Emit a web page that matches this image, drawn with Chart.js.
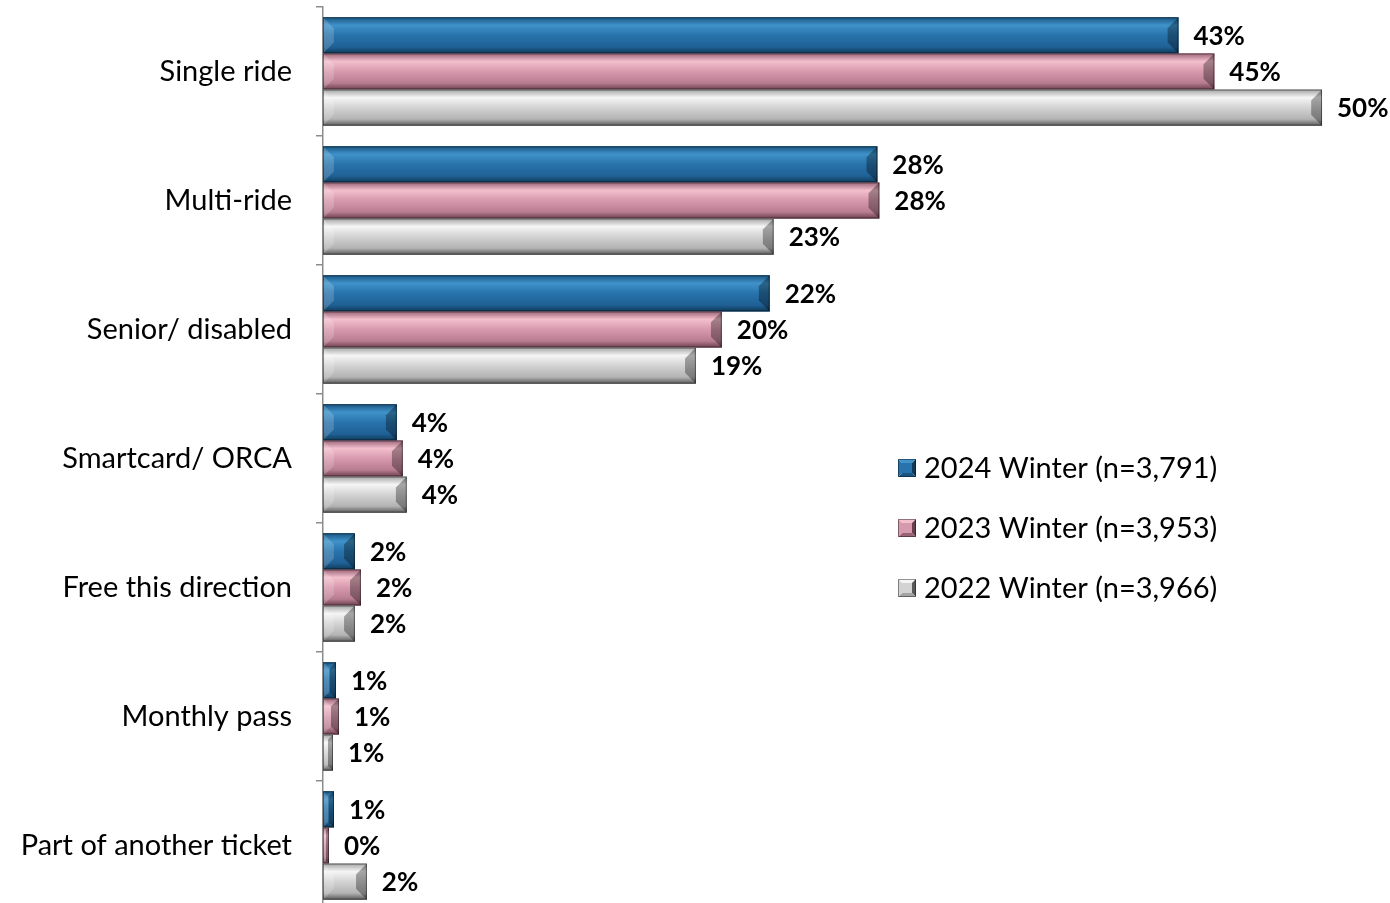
<!DOCTYPE html>
<html>
<head>
<meta charset="utf-8">
<script src="https://cdn.jsdelivr.net/npm/chart.js@4/dist/chart.umd.min.js"></script>
<style>
  html, body { margin: 0; padding: 0; background: #fff; overflow: hidden; }
  #wrap { width: 1390px; height: 903px; overflow: hidden; }
</style>
</head>
<body>
<div id="wrap"><canvas id="ticketChart" width="1390" height="910"></canvas></div>
<script>
// categories and series (percent of riders)
const categories = ['Single ride', 'Multi-ride', 'Senior/ disabled', 'Smartcard/ ORCA',
    'Free this direction', 'Monthly pass', 'Part of another ticket'];
const seriesNames = ['2024 Winter (n=3,791)', '2023 Winter (n=3,953)', '2022 Winter (n=3,966)'];
const winter2024 = [42.9, 27.8, 22.4, 3.7, 1.6, 0.65, 0.55];
const winter2023 = [44.7, 27.9, 20.0, 4.0, 1.9, 0.8, 0.3];
const winter2022 = [50.1, 22.6, 18.7, 4.2, 1.6, 0.5, 2.2];

// gradient stops per series: top edge, highlight, middle, lower, bottom edge
const bevelColors = [
    ['#1a5682', '#3f92ca', '#2873ab', '#1f6196', '#103a58'],
    ['#9a6478', '#f3bfcd', '#d799ad', '#b87c90', '#6a3f4f'],
    ['#a4a4a4', '#f5f5f5', '#d3d3d3', '#b3b3b3', '#595959']
];
const baseColors = ['#2873ab', '#d799ad', '#c8c8c8'];
const FONT = 'Lato, "Liberation Sans", sans-serif';

function barGradient(ctx, top, bottom, stops) {
    const g = ctx.createLinearGradient(0, top, 0, bottom);
    g.addColorStop(0, stops[0]);
    g.addColorStop(0.22, stops[1]);
    g.addColorStop(0.5, stops[2]);
    g.addColorStop(0.82, stops[3]);
    g.addColorStop(1, stops[4]);
    return g;
}

const bevelPlugin = {
    id: 'bevelBars',
    afterDatasetsDraw(chart) {
        const ctx = chart.ctx;
        chart.data.datasets.forEach((ds, i) => {
            const meta = chart.getDatasetMeta(i);
            meta.data.forEach((el, j) => {
                const p = el.getProps(['x', 'y', 'base', 'height'], true);
                const left = Math.min(p.base, p.x), right = Math.max(p.base, p.x);
                const top = p.y - p.height / 2, bottom = p.y + p.height / 2;
                const w = right - left;
                if (w > 0) {
                    const b = Math.min(p.height * 0.3, w / 2);
                    ctx.save();
                    ctx.fillStyle = barGradient(ctx, top, bottom, bevelColors[i]);
                    ctx.fillRect(left, top, w, p.height);
                    // right end bevel (shadow)
                    ctx.fillStyle = 'rgba(0,0,0,0.32)';
                    ctx.beginPath();
                    ctx.moveTo(right, top);
                    ctx.lineTo(right, bottom);
                    ctx.lineTo(right - b, bottom - b);
                    ctx.lineTo(right - b, top + b);
                    ctx.closePath();
                    ctx.fill();
                    // left end bevel (light)
                    ctx.fillStyle = 'rgba(255,255,255,0.18)';
                    ctx.beginPath();
                    ctx.moveTo(left, top);
                    ctx.lineTo(left + b, top + b);
                    ctx.lineTo(left + b, bottom - b);
                    ctx.lineTo(left, bottom);
                    ctx.closePath();
                    ctx.fill();
                    ctx.strokeStyle = 'rgba(0,0,0,0.45)';
                    ctx.lineWidth = 1;
                    ctx.strokeRect(left + 0.5, top + 0.5, Math.max(w - 1, 0.5), p.height - 1);
                    ctx.restore();
                }

                // value label
                ctx.save();
                ctx.font = 'bold 26px ' + FONT;
                ctx.fillStyle = '#000';
                ctx.textAlign = 'left';
                ctx.textBaseline = 'middle';
                ctx.fillText(Math.round(ds.data[j]) + '%', right + 15, p.y + 1);
                ctx.restore();
            });
        });
    }
};

const legendPlugin = {
    id: 'sideLegend',
    afterDraw(chart) {
        const ctx = chart.ctx;
        const x0 = 898, rows = [468, 528, 588], s = 18;
        chart.data.datasets.forEach((ds, i) => {
            const cy = rows[i];
            const l = x0, t = cy - s / 2, r = x0 + s, btm = cy + s / 2, mx = (l + r) / 2;
            const c = bevelColors[i];
            ctx.save();
            const faces = [
                [[l, t], [r, t], [mx, cy]],
                [[r, t], [r, btm], [mx, cy]],
                [[r, btm], [l, btm], [mx, cy]],
                [[l, btm], [l, t], [mx, cy]]
            ];
            const fc = [c[1], c[4], c[0], c[2]];
            faces.forEach((f, k) => {
                ctx.fillStyle = fc[k];
                ctx.beginPath();
                ctx.moveTo(f[0][0], f[0][1]);
                ctx.lineTo(f[1][0], f[1][1]);
                ctx.lineTo(f[2][0], f[2][1]);
                ctx.closePath();
                ctx.fill();
            });
            ctx.fillStyle = c[2];
            ctx.fillRect(l + 4, t + 4, s - 8, s - 8);
            ctx.strokeStyle = 'rgba(0,0,0,0.4)';
            ctx.strokeRect(l + 0.5, t + 0.5, s - 1, s - 1);
            ctx.font = '29px ' + FONT;
            ctx.fillStyle = '#000';
            ctx.textAlign = 'left';
            ctx.textBaseline = 'middle';
            ctx.fillText(ds.label, x0 + 26, cy + 1);
            ctx.restore();
        });
    }
};

new Chart(document.getElementById('ticketChart'), {
    type: 'bar',
    data: {
        labels: categories,
        datasets: [
            { label: seriesNames[0], data: winter2024, backgroundColor: baseColors[0] },
            { label: seriesNames[1], data: winter2023, backgroundColor: baseColors[1] },
            { label: seriesNames[2], data: winter2022, backgroundColor: baseColors[2] }
        ]
    },
    options: {
        indexAxis: 'y',
        responsive: false,
        animation: false,
        layout: { padding: { top: 7, right: 60, bottom: 0, left: 0 } },
        datasets: { bar: { categoryPercentage: 0.84, barPercentage: 1 } },
        plugins: {
            legend: { display: false },
            tooltip: { enabled: false }
        },
        scales: {
            x: { display: false, min: 0, max: 50.5 },
            y: {
                grid: {
                    offset: true,
                    drawOnChartArea: false,
                    drawTicks: true,
                    tickLength: 7,
                    color: '#8c8c8c',
                    lineWidth: 1.5
                },
                border: { display: true, color: '#8c8c8c', width: 1.5 },
                ticks: {
                    color: '#000',
                    padding: 24,
                    font: { family: FONT, size: 29 }
                },
                afterFit(scale) {
                    scale.width = 323;
                    scale.paddingTop = 0;
                    scale.paddingBottom = 0;
                }
            }
        }
    },
    plugins: [bevelPlugin, legendPlugin]
});
</script>
</body>
</html>
